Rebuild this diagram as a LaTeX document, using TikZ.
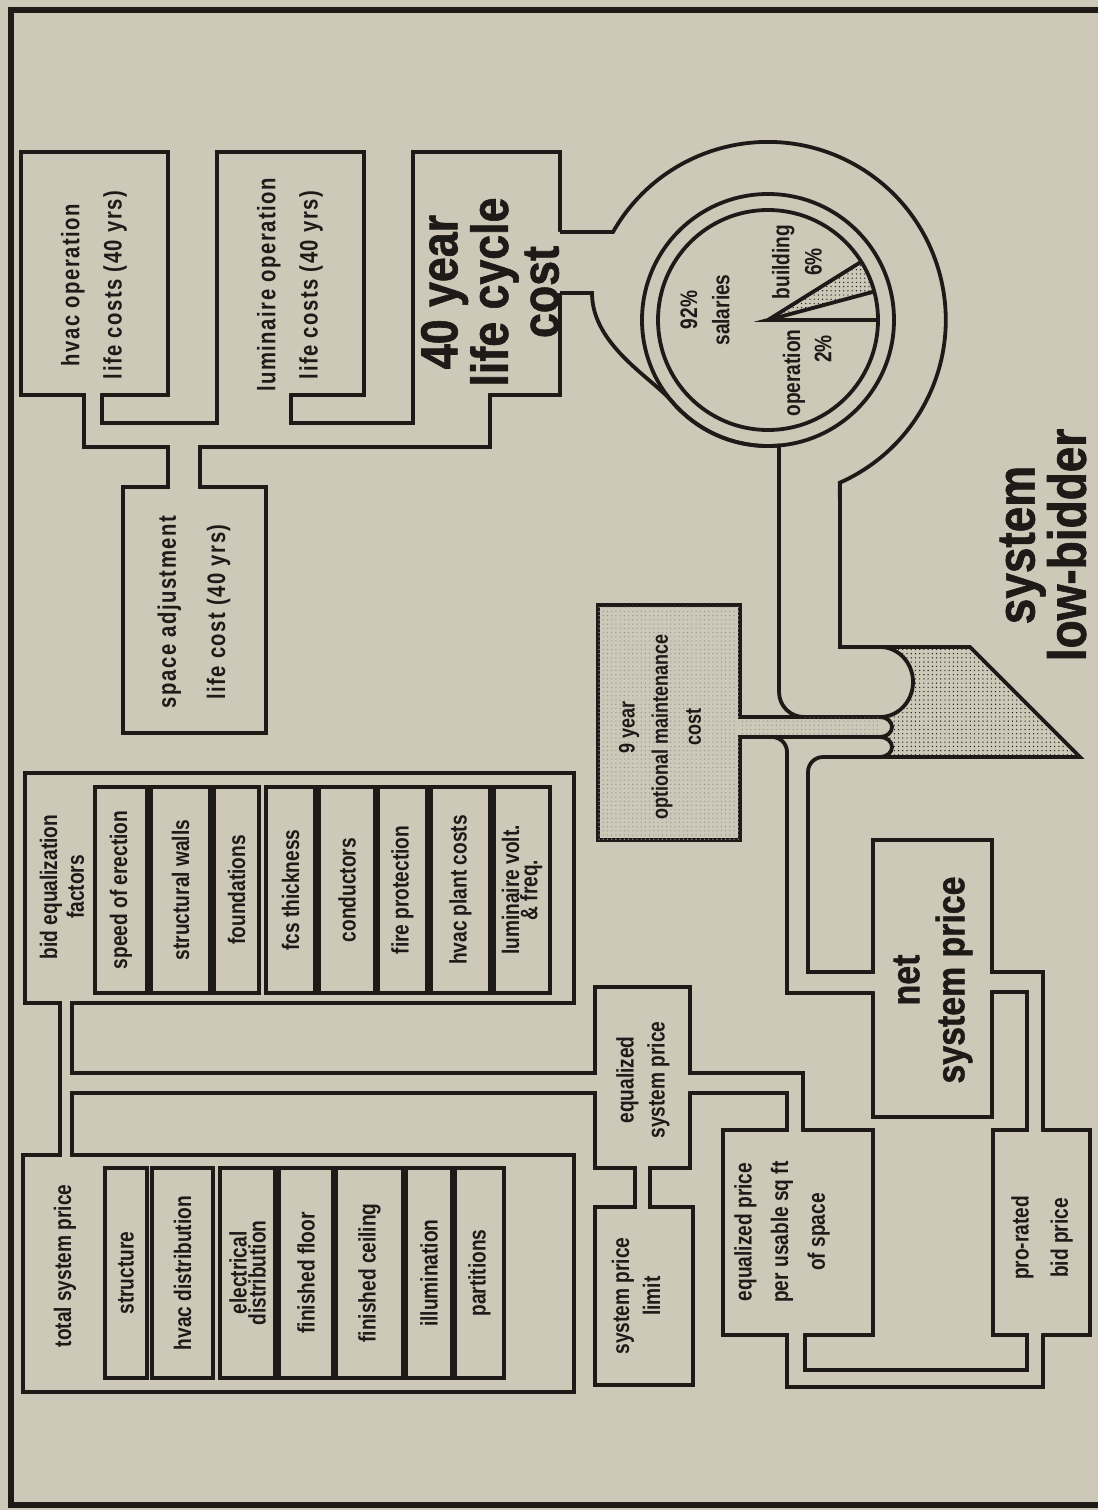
\documentclass[tikz,border=0pt]{standalone}
\usepackage{fontspec}
\setmainfont{Liberation Sans}[FakeStretch=0.8]
\newfontfamily\heavyfont{Liberation Sans}[UprightFont={* Bold},FakeStretch=0.86,FakeBold=1.2]
\newfontfamily\spacedfont{Liberation Sans}[FakeStretch=0.8,LetterSpace=6]
\usetikzlibrary{patterns}
\definecolor{bg}{RGB}{205,200,184}
\definecolor{ink}{RGB}{30,26,24}
\newcommand\fsz[2]{\fontsize{#1}{#2}\selectfont}
\begin{document}
\begin{tikzpicture}[x=0.025cm,y=0.025cm,
  ln/.style={draw=ink,line width=2.7pt},
  box/.style={ln,fill=bg},
  lbl/.style={rotate=90,align=center,text=ink,inner sep=0pt,font=\bfseries\fsz{17}{15}},
]
\useasboundingbox (0,0) rectangle (1098,-1510);
\fill[bg] (0,0) rectangle (1098,-1510);
% frame
\draw[ink,line width=3.8pt] (1098,-10) -- (11,-10) -- (11,-1505) -- (1098,-1505);

% ---------- top boxes ----------
\draw[box] (21,-152) rectangle (168,-395);
\draw[box] (217,-152) rectangle (364,-395);
\draw[box] (413,-152) rectangle (560,-395);
\draw[box] (123,-487) rectangle (266,-733);
% manifold
\fill[bg] (86,-391) -- (86,-445) -- (170,-445) -- (170,-491) -- (198,-491) -- (198,-445) -- (488,-445) -- (488,-391) -- (415,-391) -- (415,-425) -- (289,-425) -- (289,-391) -- (219,-391) -- (219,-425) -- (100,-425) -- (100,-391) -- cycle;
\draw[ln] (84,-395) -- (84,-447) -- (168,-447) -- (168,-487);
\draw[ln] (200,-487) -- (200,-447) -- (490,-447) -- (490,-395);
\draw[ln] (102,-395) -- (102,-423) -- (217,-423) -- (217,-395);
\draw[ln] (291,-395) -- (291,-423) -- (413,-423) -- (413,-395);

% ---------- trapezoid ----------
\fill[pattern=dots,pattern color=ink] (850,-647) -- (970,-647) -- (1080,-757) -- (850,-757) -- cycle;

% ---------- balloon and stem ----------
\fill[bg] (556,-232) -- (613,-232) arc[start angle=150.4,end angle=-66.1,radius=178] -- (840,-647) -- (880,-647) arc[start angle=90,end angle=-90,x radius=33,y radius=35] -- (804,-717) arc[start angle=270,end angle=180,radius=25] -- (779,-445.5) arc[start angle=275,end angle=220,radius=126] .. controls (652,-378) and (592,-345) .. (592,-293) -- (556,-293) -- cycle;
\draw[ln] (560,-232) -- (613,-232) arc[start angle=150.4,end angle=-66.1,radius=178] -- (840,-647) -- (970,-647) -- (1080,-757) -- (880,-757);
\draw[ln] (560,-293) -- (592,-293) .. controls (592,-345) and (652,-378) .. (671.5,-401) arc[start angle=220,end angle=275,radius=126] -- (779,-692) arc[start angle=180,end angle=270,radius=25] -- (880,-717);
\draw[ln] (880,-647) arc[start angle=90,end angle=-90,x radius=33,y radius=35];

% pie
\fill[pattern=dots,pattern color=ink] (768,-320) -- ++(15:110) arc[start angle=15,end angle=32,radius=110] -- cycle;
\draw[ln] (768,-320) circle[radius=110];
\draw[ln] (768,-320) circle[radius=126];
\draw[ln] (878,-320) -- (768,-320) -- ++(15:110);
\draw[ln] (768,-320) -- ++(32:110);

% ---------- 9 year box and pipes ----------
\draw[box] (598,-605) rectangle (740,-840);
\fill[pattern=dots,pattern color=ink!45] (598,-605) rectangle (740,-840);
\draw[box] (873,-840) rectangle (992,-1117);
\fill[bg] (737,-719) rectangle (880,-735);
\fill[pattern=dots,pattern color=ink!45] (740,-717) rectangle (880,-737);
\fill[bg] (789,-739) -- (880,-739) -- (880,-755) -- (806,-755) -- (806,-974) -- (876,-974) -- (876,-991) -- (789,-991) -- cycle;
\draw[ln] (740,-717) -- (805,-717);
\draw[ln] (740,-737) -- (772,-737) arc[start angle=90,end angle=0,radius=15] -- (787,-993) -- (873,-993);
\draw[ln] (772,-737) -- (880,-737);
\draw[ln] (880,-757) -- (823,-757) arc[start angle=90,end angle=180,radius=15] -- (808,-972) -- (873,-972);
\draw[ln,fill=bg] (880,-717) arc[start angle=90,end angle=-90,x radius=12,y radius=10];
\draw[ln,fill=bg] (880,-737) arc[start angle=90,end angle=-90,x radius=12,y radius=10];

% ---------- lower right ----------
\draw[box] (993,-1130) rectangle (1090,-1335);
\draw[box] (723,-1130) rectangle (873,-1335);
\draw[box] (595,-987) rectangle (690,-1168);
\draw[box] (595,-1207) rectangle (693,-1385);
% net -> pro-rated
\fill[bg] (988,-974) -- (1041,-974) -- (1041,-1134) -- (1029,-1134) -- (1029,-990) -- (988,-990) -- cycle;
\draw[ln] (992,-972) -- (1043,-972) -- (1043,-1130);
\draw[ln] (992,-992) -- (1027,-992) -- (1027,-1130);
% eq -> eq per sq ft
\fill[bg] (686,-1075) -- (801,-1075) -- (801,-1134) -- (789,-1134) -- (789,-1091) -- (686,-1091) -- cycle;
\draw[ln] (690,-1073) -- (803,-1073) -- (803,-1130);
\draw[ln] (690,-1093) -- (787,-1093) -- (787,-1130);
% eq -> limit
\fill[bg] (637,-1164) rectangle (648,-1211);
\draw[ln] (635,-1168) -- (635,-1207);
\draw[ln] (650,-1168) -- (650,-1207);
% U pipe
\fill[bg] (789,-1331) -- (789,-1385) -- (1041,-1385) -- (1041,-1331) -- (1029,-1331) -- (1029,-1372) -- (803,-1372) -- (803,-1331) -- cycle;
\draw[ln] (787,-1335) -- (787,-1387) -- (1043,-1387) -- (1043,-1335);
\draw[ln] (805,-1335) -- (805,-1370) -- (1027,-1370) -- (1027,-1335);

% ---------- bid equalization and total ----------
\draw[box] (25,-773) rectangle (574,-1003);
\foreach \a/\b in {95/147,151/210,214/259,266/315,319/375,378/427,431/490,494/550}
  \draw[box] (\a,-787) rectangle (\b,-993);
\draw[box] (23,-1155) rectangle (574,-1392);
\foreach \a/\b in {105/147,152/213,220/275,279/333,336/403,406/452,455/504}
  \draw[box] (\a,-1168) rectangle (\b,-1378);
\fill[bg] (62,-999) rectangle (70,-1159);
\fill[bg] (70,-1075) rectangle (599,-1091);
\draw[ln] (60,-1003) -- (60,-1155);
\draw[ln] (72,-1003) -- (72,-1073) -- (595,-1073);
\draw[ln] (72,-1155) -- (72,-1093) -- (595,-1093);

% ---------- texts ----------
\node[lbl,font=\spacedfont\bfseries\fsz{18}{30}] (hvac) at (94,-285) {hvac operation\\life costs (40 yrs)};
\node[lbl,font=\spacedfont\bfseries\fsz{18}{30}] (lum) at (290,-285) {luminaire operation\\life costs (40 yrs)};
\node[lbl,font=\heavyfont\fsz{37}{36}] (lcc) at (490,-292) {40 year\\life cycle\\cost};
\node[lbl,font=\spacedfont\bfseries\fsz{18}{35}] (spa) at (194,-612) {space adjustment\\life cost (40 yrs)};
\node[lbl,font=\bfseries\fsz{17}{23}] (sal) at (705,-310) {92\%\\salaries};
\node[lbl,font=\bfseries\fsz{17}{23}] (bld) at (797,-262) {building\\6\%};
\node[lbl] (opr) at (794,-373) {operation};
\node[lbl] (opp) at (823,-349) {2\%};
\node[lbl,font=\heavyfont\fsz{38}{27}] (title) at (1043,-545) {system\\low-bidder};
\node[lbl,font=\bfseries\fsz{16}{23.5}] (nine) at (660,-727) {9 year\\optional maintenance\\cost};
\node[lbl,font=\heavyfont\fsz{28}{32}] (net) at (933,-980) {net\\system price};
\node[lbl,font=\bfseries\fsz{17}{28}] (pro) at (1042,-1238) {pro-rated\\bid price};
\node[lbl,font=\bfseries\fsz{17}{26}] (eqsq) at (782,-1232) {equalized price\\per usable sq ft\\of space};
\node[lbl,font=\bfseries\fsz{17}{22}] (eqs) at (643,-1080) {equalized\\system price};
\node[lbl,font=\bfseries\fsz{17}{22}] (lim) at (636,-1296) {system price\\limit};
\node[lbl,font=\bfseries\fsz{17}{19}] (bidt) at (62,-887) {bid equalization\\factors};
\node[lbl] (tot) at (65,-1266) {total system price};
% bid factors
\node[lbl] (f1) at (121,-890) {speed of erection};
\node[lbl] (f2) at (180.5,-890) {structural walls};
\node[lbl] (f3) at (236.5,-890) {foundations};
\node[lbl] (f4) at (290.5,-890) {fcs thickness};
\node[lbl] (f5) at (347,-890) {conductors};
\node[lbl] (f6) at (402.5,-890) {fire protection};
\node[lbl] (f7) at (460.5,-890) {hvac plant costs};
\node[lbl,font=\bfseries\fsz{17}{13}] (f8) at (522,-890) {luminaire volt.\\\& freq.};
% total components
\node[lbl] (c1) at (126,-1273) {structure};
\node[lbl] (c2) at (182.5,-1273) {hvac distribution};
\node[lbl,font=\bfseries\fsz{17}{13.5}] (c3) at (247.5,-1273) {electrical\\distribution};
\node[lbl] (c4) at (306,-1273) {finished floor};
\node[lbl] (c5) at (369.5,-1273) {finished ceiling};
\node[lbl] (c6) at (429,-1273) {illumination};
\node[lbl] (c7) at (479.5,-1273) {partitions};
\end{tikzpicture}
\end{document}
